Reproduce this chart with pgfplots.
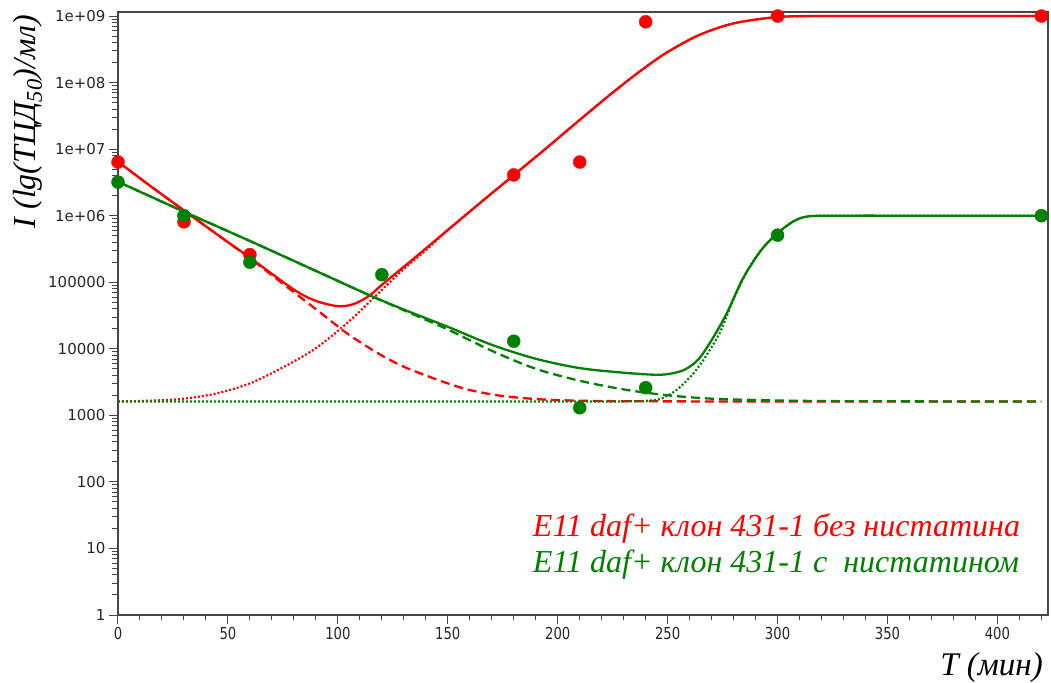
\documentclass[border=0pt]{standalone}
\usepackage{fontspec}
\setmainfont{Liberation Serif}
\newfontfamily\ytickfont{DejaVu Sans}
\newfontfamily\xtickfont[FakeStretch=0.8]{DejaVu Sans}
\usepackage{pgfplots}
\pgfplotsset{compat=1.18}
\definecolor{cred}{RGB}{255,0,0}
\definecolor{cgreen}{RGB}{0,128,0}
\definecolor{axgray}{RGB}{70,70,70}
\begin{document}
\begin{tikzpicture}
\path[use as bounding box] (-118pt,-67pt) rectangle (933pt,615pt);
\begin{axis}[
  at={(0pt,0pt)}, anchor=south west,
  scale only axis, width=930pt, height=603pt,
  xmin=0, xmax=423, ymode=log, ymin=1, ymax=1.15e9,
  axis line style={axgray, line width=1.3pt},
  xtick={0,50,100,150,200,250,300,350,400},
  xticklabels={0,50,100,150,200,250,300,350,400},
  minor xtick={10,20,30,40,60,70,80,90,110,120,130,140,160,170,180,190,210,220,230,240,260,270,280,290,310,320,330,340,360,370,380,390,410,420},
  ytick={1,10,100,1000,10000,100000,1e6,1e7,1e8,1e9},
  yticklabels={1,10,100,1000,10000,100000,1e+06,1e+07,1e+08,1e+09},
  minor ytick={2,3,4,5,6,7,8,9,20,30,40,50,60,70,80,90,200,300,400,500,600,700,800,900,2000,3000,4000,5000,6000,7000,8000,9000,2e4,3e4,4e4,5e4,6e4,7e4,8e4,9e4,2e5,3e5,4e5,5e5,6e5,7e5,8e5,9e5,2e6,3e6,4e6,5e6,6e6,7e6,8e6,9e6,2e7,3e7,4e7,5e7,6e7,7e7,8e7,9e7,2e8,3e8,4e8,5e8,6e8,7e8,8e8,9e8},
  tick align=outside, xtick pos=bottom, ytick pos=left,
  major tick length=9pt, minor tick length=5.5pt,
  every tick/.style={axgray, line width=1pt},
  xticklabel style={font=\xtickfont\fontsize{16.5}{19}\selectfont, text=black!85},
  yticklabel style={font=\ytickfont\fontsize{15}{18}\selectfont, text=black!85},
  clip=false,
  xlabel={\itshape T (мин)},
  xlabel style={at={(axis description cs:0.9946,-0.062)}, anchor=north east, inner sep=0pt, font=\fontsize{33}{38}\selectfont},
  ylabel={\itshape I (lg(ТЦД\textsubscript{50})/мл)},
  ylabel style={at={(axis description cs:-0.097,0.996)}, anchor=east, inner sep=0pt, font=\fontsize{32}{38}\selectfont},
]
% red: growth (dotted), decay (dashed), total (solid)
\addplot[cred, line width=2.2pt, dash pattern=on 2pt off 2pt, smooth, no marks] coordinates {
(0,1.62e3) (15,1.66e3) (30,1.78e3) (45,2.14e3) (60,3.02e3) (75,5.25e3) (90,1.02e4) (105,2.57e4) (118,6.61e4) (130,1.585e5) (140,3.02e5) (150,6.10e5) (165,1.585e6) (180,4.07e6) (195,1.047e7) (210,2.75e7) (225,7.08e7) (237,1.445e8) (249,2.75e8) (264,5.13e8) (280,7.76e8) (300,9.66e8) (320,1e9) (360,1e9) (420,1e9)};
\addplot[cred, line width=2.3pt, dash pattern=on 9pt off 5pt, smooth, no marks] coordinates {
(0,6.46e6) (15,2.75e6) (30,1.20e6) (45,5.25e5) (60,2.29e5) (80,7.08e4) (91,3.72e4) (103,1.82e4) (112,1.148e4) (121,7.59e3) (130,5.37e3) (140,3.98e3) (150,3.02e3) (160,2.40e3) (175,1.95e3) (195,1.72e3) (220,1.64e3) (260,1.62e3) (340,1.62e3) (420,1.62e3)};
\addplot[cred, line width=2.3pt, smooth, no marks] coordinates {
(0,6.46e6) (15,2.75e6) (30,1.20e6) (45,5.25e5) (60,2.34e5) (80,7.76e4) (90,5.25e4) (100,4.37e4) (107,4.68e4) (114,6.17e4) (120,9.12e4) (135,2.34e5) (150,6.10e5) (165,1.585e6) (180,4.07e6) (195,1.047e7) (210,2.75e7) (225,7.08e7) (237,1.445e8) (249,2.75e8) (264,5.13e8) (280,7.76e8) (300,9.66e8) (320,1e9) (360,1e9) (420,1e9)};
\addplot[only marks, mark=*, mark size=6.5pt, cred, mark options={draw=cred, fill=cred}] coordinates {
(0,6.4e6) (30,8.1e5) (60,2.6e5) (180,4.1e6) (210,6.4e6) (240,8.2e8) (300,1e9) (420,1e9)};
% green
\addplot[cgreen, line width=2.2pt, dash pattern=on 2pt off 2pt, smooth, no marks] coordinates {
(0,1.62e3) (60,1.62e3) (120,1.62e3) (180,1.62e3) (220,1.62e3) (235,1.63e3) (246,1.74e3) (254,2.40e3) (262,4.37e3) (268,8.32e3) (274,1.82e4) (280,5.62e4) (286,1.445e5) (292,2.88e5) (299,5.13e5) (307,8.13e5) (314,9.77e5) (330,1e6) (370,1e6) (420,1e6)};
\addplot[cgreen, line width=2.3pt, dash pattern=on 9pt off 5pt, smooth, no marks] coordinates {
(0,3.24e6) (30,1.15e6) (60,4.17e5) (90,1.48e5) (114,6.46e4) (130,3.80e4) (150,1.95e4) (170,9.33e3) (190,5.01e3) (210,3.31e3) (230,2.45e3) (250,2.00e3) (270,1.78e3) (290,1.70e3) (320,1.64e3) (370,1.62e3) (420,1.62e3)};
\addplot[cgreen, line width=2.3pt, smooth, no marks] coordinates {
(0,3.24e6) (30,1.15e6) (60,4.17e5) (90,1.48e5) (114,6.46e4) (130,3.89e4) (150,2.14e4) (170,1.148e4) (190,7.08e3) (210,5.13e3) (230,4.37e3) (245,4.07e3) (252,4.27e3) (258,4.90e3) (264,6.92e3) (270,1.35e4) (277,3.47e4) (284,1.10e5) (292,2.88e5) (299,5.13e5) (307,8.13e5) (314,9.77e5) (330,1e6) (370,1e6) (420,1e6)};
\addplot[only marks, mark=*, mark size=6.5pt, cgreen, mark options={draw=cgreen, fill=cgreen}] coordinates {
(0,3.2e6) (30,1.0e6) (60,2.0e5) (120,1.3e5) (180,1.3e4) (210,1.3e3) (240,2.6e3) (300,5.1e5) (420,1.0e6)};
\node[anchor=base west, text=cred, inner sep=0pt, font=\fontsize{32}{38}\selectfont\itshape] at (axis description cs:0.446,0.131) {E11 daf+ клон 431-1 без нистатина};
\node[anchor=base west, text=cgreen, inner sep=0pt, font=\fontsize{32}{38}\selectfont\itshape] at (axis description cs:0.446,0.0713) {E11 daf+ клон 431-1 с\ \ нистатином};
\end{axis}
\end{tikzpicture}
\end{document}
